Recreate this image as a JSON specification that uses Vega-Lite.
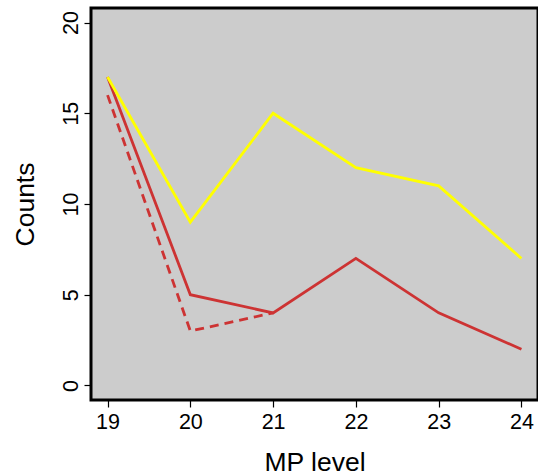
{
  "$schema": "https://vega.github.io/schema/vega-lite/v6.json",
  "width": 447,
  "height": 392,
  "autosize": {"type": "none"},
  "padding": {"left": 91, "top": 8, "right": 0, "bottom": 76},
  "background": "white",
  "config": {
    "view": {"fill": "#CCCCCC", "stroke": "black", "strokeWidth": 3},
    "font": "Liberation Sans",
    "axis": {
      "grid": false,
      "domain": false,
      "tickColor": "black",
      "tickWidth": 1.2,
      "tickSize": 7,
      "labelColor": "black",
      "titleColor": "black",
      "labelFont": "Liberation Sans",
      "titleFont": "Liberation Sans",
      "labelFontSize": 21.5,
      "titleFontSize": 26.5,
      "titleFontWeight": "normal"
    }
  },
  "data": {
    "values": [
      {"mp": 19, "count": 16, "series": "dashed"},
      {"mp": 20, "count": 3, "series": "dashed"},
      {"mp": 21, "count": 4, "series": "dashed"},
      {"mp": 19, "count": 17, "series": "red"},
      {"mp": 20, "count": 5, "series": "red"},
      {"mp": 21, "count": 4, "series": "red"},
      {"mp": 22, "count": 7, "series": "red"},
      {"mp": 23, "count": 4, "series": "red"},
      {"mp": 24, "count": 2, "series": "red"},
      {"mp": 19, "count": 17, "series": "yellow"},
      {"mp": 20, "count": 9, "series": "yellow"},
      {"mp": 21, "count": 15, "series": "yellow"},
      {"mp": 22, "count": 12, "series": "yellow"},
      {"mp": 23, "count": 11, "series": "yellow"},
      {"mp": 24, "count": 7, "series": "yellow"}
    ]
  },
  "encoding": {
    "x": {
      "field": "mp",
      "type": "quantitative",
      "scale": {"domain": [18.8, 24.2], "nice": false, "zero": false},
      "axis": {"values": [19, 20, 21, 22, 23, 24], "format": "d", "title": "MP level", "labelPadding": 4, "titlePadding": 17}
    },
    "y": {
      "field": "count",
      "type": "quantitative",
      "scale": {"domain": [-0.8, 20.8], "nice": false, "zero": false},
      "axis": {"values": [0, 5, 10, 15, 20], "title": "Counts", "labelAngle": -90, "labelAlign": "center", "labelBaseline": "bottom", "labelPadding": 2, "titlePadding": 21}
    }
  },
  "layer": [
    {
      "transform": [{"filter": "datum.series === 'dashed'"}],
      "mark": {"type": "line", "color": "#CD3333", "strokeWidth": 2.8, "strokeDash": [9, 6]}
    },
    {
      "transform": [{"filter": "datum.series === 'red'"}],
      "mark": {"type": "line", "color": "#CD3333", "strokeWidth": 2.8}
    },
    {
      "transform": [{"filter": "datum.series === 'yellow'"}],
      "mark": {"type": "line", "color": "#FFFF00", "strokeWidth": 2.8}
    }
  ]
}
